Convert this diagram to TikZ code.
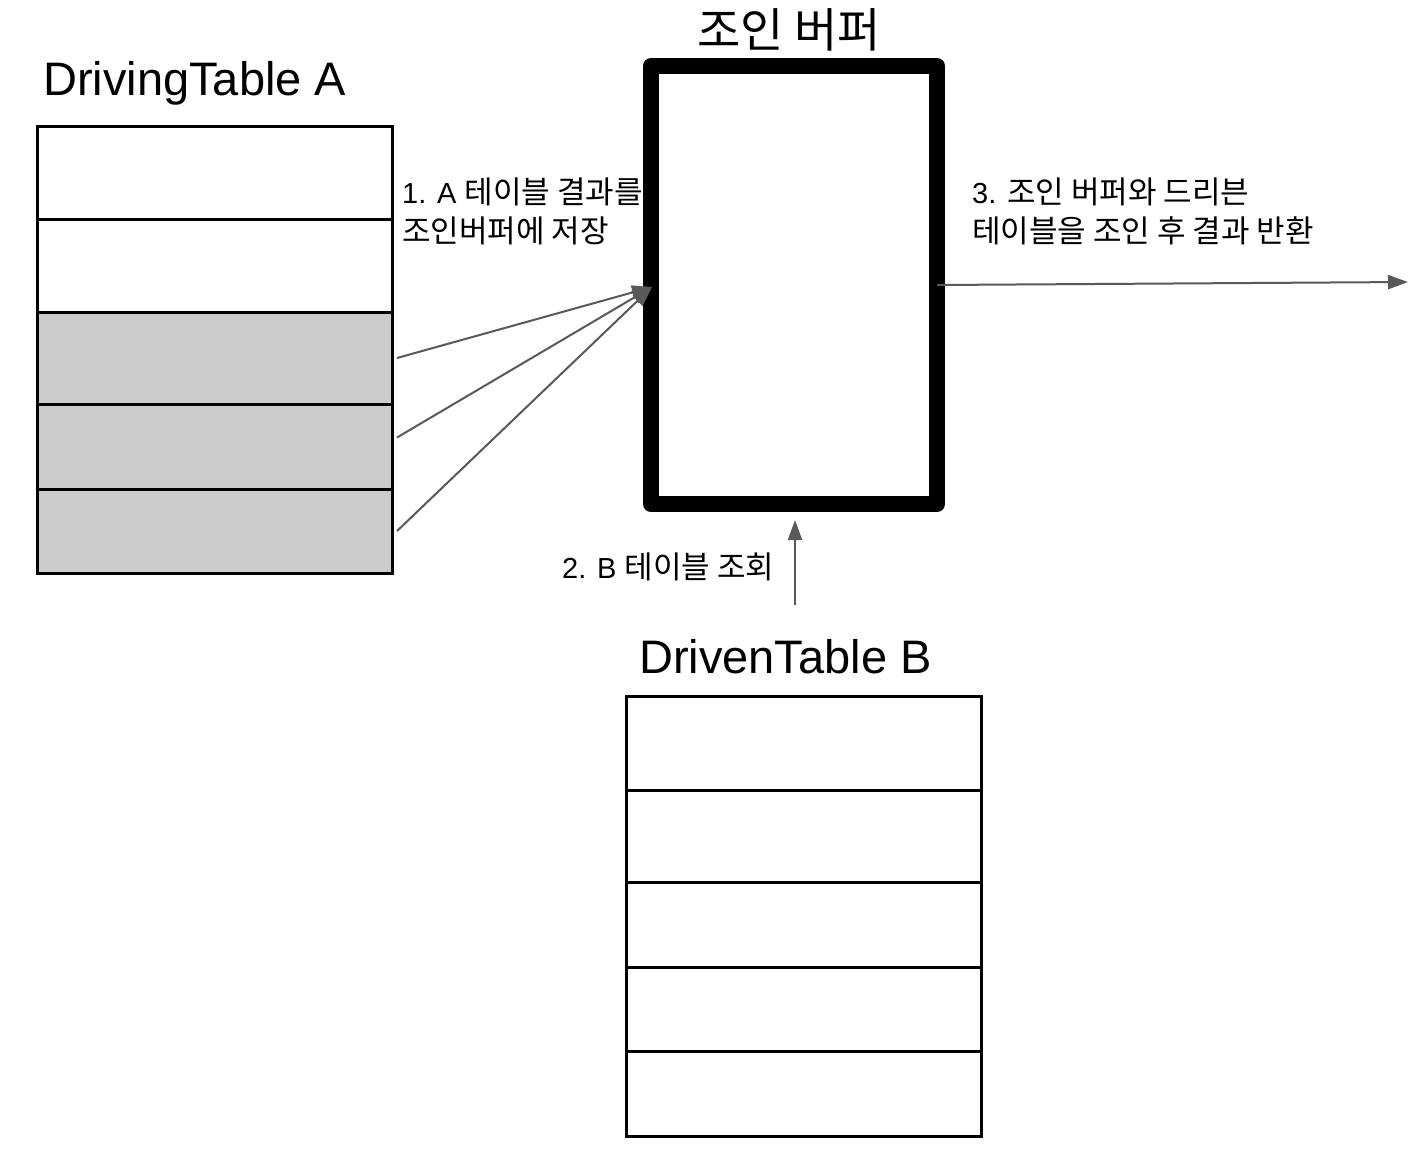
\documentclass[tikz,border=0pt]{standalone}
\usepackage{fontspec}
\setmainfont{Liberation Sans}
\newfontfamily\cjk[Scale=1.07]{Noto Sans CJK KR}
\usetikzlibrary{arrows.meta,positioning}
\begin{document}
\begin{tikzpicture}[x=1pt,y=-1pt,
  rowbox/.style={draw=black,line width=3pt,minimum width=355pt,inner sep=0pt,outer sep=0pt,anchor=north west},
  grayrow/.style={rowbox,fill=black!20},
  arr/.style={draw=black!65,line width=2pt,-{Triangle[length=20pt,width=14pt]}},
  big/.style={font=\fontsize{47}{54}\selectfont,inner sep=0pt},
  lab/.style={font=\fontsize{29}{38}\selectfont,inner sep=0pt,align=left}
]
\useasboundingbox[fill=white] (0,0) rectangle (1424,1160);
% Table A
\node[big,anchor=base west] (ta) at (43,95) {DrivingTable A};
\node[rowbox,minimum height=93pt] (a1) at (37,126) {};
\node[rowbox,minimum height=93pt] (a2) at (37,219) {};
\node[grayrow,minimum height=92pt] (a3) at (37,312) {};
\node[grayrow,minimum height=85pt] (a4) at (37,404) {};
\node[grayrow,minimum height=84pt] (a5) at (37,489) {};
% Buffer
\node[draw=black,line width=16pt,line join=round,minimum width=286pt,minimum height=438pt,inner sep=0pt,outer sep=0pt] (buf) at (794,285) {};
\node[font=\fontsize{44}{50}\selectfont,inner sep=0pt,anchor=center] (bt) at (789,30) {\cjk 조인 버퍼};
% Table B
\node[big,anchor=base west] (tb) at (639,673) {DrivenTable B};
\node[rowbox,minimum height=94pt] (b1) at (626,696) {};
\node[rowbox,minimum height=92pt] (b2) at (626,790) {};
\node[rowbox,minimum height=85pt] (b3) at (626,882) {};
\node[rowbox,minimum height=84pt] (b4) at (626,967) {};
\node[rowbox,minimum height=85pt] (b5) at (626,1051) {};
% labels
\node[lab,anchor=base west] (l1a) at (402,203) {1. A {\cjk 테이블 결과를}};
\node[lab,anchor=base west] (l1b) at (402,242) {\cjk 조인버퍼에 저장};
\node[lab,anchor=base west] (l3a) at (972,203) {3. {\cjk 조인 버퍼와 드리븐}};
\node[lab,anchor=base west] (l3b) at (972,242) {\cjk 테이블을 조인 후 결과 반환};
\node[lab,anchor=base west] (l2) at (562,578) {2. B {\cjk 테이블 조회}};
% arrows
\coordinate (tipA) at (652,287);
\draw[arr] ([xshift=5pt]a3.east) -- (tipA);
\draw[arr] ([xshift=5pt,yshift=9pt]a4.east) -- (tipA);
\draw[arr] ([xshift=5pt]a5.east) -- (tipA);
\coordinate (outR) at (1408,282);
\draw[arr] (buf.east) -- (outR);
\coordinate (bstart) at (795,605);
\coordinate (btip) at (795,520);
\draw[arr] (bstart) -- (btip);
\end{tikzpicture}
\end{document}
